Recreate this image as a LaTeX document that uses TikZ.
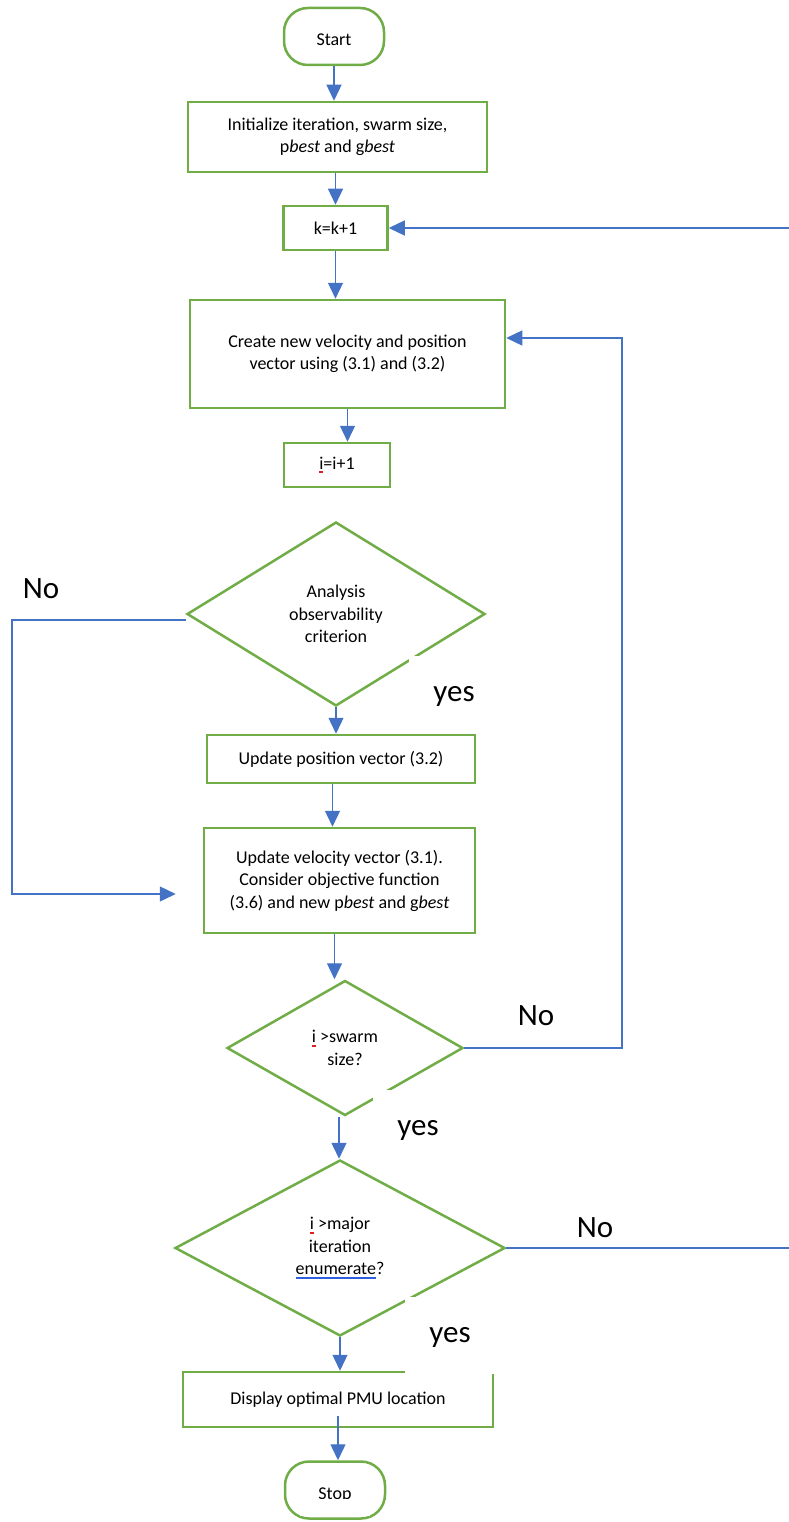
\documentclass[tikz,border=0pt]{standalone}
\usepackage{fontspec}
\setmainfont{Carlito}
\usetikzlibrary{arrows.meta,shapes.geometric}

\definecolor{boxgreen}{HTML}{70AD47}
\definecolor{flowblue}{HTML}{4472C4}
\definecolor{spellred}{HTML}{E02020}
\definecolor{grammarblue}{HTML}{2F5FE0}

% word with a coloured proofing mark under it
\newlength\marklen
\newcommand\markword[2]{\settowidth\marklen{#2}\rlap{\textcolor{#1}{\rule[-3.8pt]{\marklen}{2pt}}}#2}

\newcommand\nodefont{\fontsize{18}{22.5}\selectfont}
\newcommand\tagfont{\fontsize{31}{36}\selectfont}

\tikzset{
  stepbox/.style={draw=boxgreen, line width=2.5pt, fill=white, align=center,
    font=\nodefont, inner sep=0pt},
  term/.style={stepbox, rounded corners=24pt, minimum width=100pt,
    minimum height=57pt, text height=20pt, text depth=2pt},
  decision/.style={stepbox, diamond, aspect=1.6},
  flow/.style={draw=flowblue, line width=1.3pt,
    -{Triangle[length=16pt,width=15pt]}},
  tag/.style={font=\tagfont, inner sep=0pt},
  yestag/.style={tag, fill=white, minimum width=90pt, minimum height=77pt,
    text height=20pt, text depth=6pt},
}

\begin{document}
\begin{tikzpicture}[x=1pt,y=-1pt]
\useasboundingbox (0,0) rectangle (788,1522);

% process steps
\node[term] (start) at (334,36.5) {Start};
\node[stepbox, minimum width=299pt, minimum height=70pt] (init) at (337.5,137)
  {Initialize iteration, swarm size,\\p\textit{best} and g\textit{best}};
\node[stepbox, minimum width=104pt, minimum height=44pt] (k) at (335.5,228) {k=k+1};
\node[stepbox, minimum width=315pt, minimum height=108pt] (create) at (347.5,354)
  {Create new velocity and position\\vector using (3.1) and (3.2)};
\node[stepbox, minimum width=106pt, minimum height=44pt] (inc) at (337,465)
  {\markword{spellred}{i}=i+1};
\node[decision, minimum width=298pt, minimum height=184pt] (obs) at (336,614)
  {Analysis\\observability\\criterion};
\node[stepbox, minimum width=268pt, minimum height=48pt] (pos) at (341,759)
  {Update position vector (3.2)};
\node[stepbox, minimum width=271pt, minimum height=105pt] (vel) at (339.5,880.5)
  {Update velocity vector (3.1).\\Consider objective function\\(3.6) and new p\textit{best} and g\textit{best}};
\node[decision, minimum width=236pt, minimum height=135pt] (swarm) at (345,1048)
  {\markword{spellred}{i} >swarm\\size?};
\node[decision, minimum width=330pt, minimum height=176pt] (major) at (340,1248)
  {\markword{spellred}{i} >major\\iteration\\\markword{grammarblue}{enumerate}?};
\node[stepbox, minimum width=310pt, minimum height=55pt] (show) at (338,1399.5)
  {Display optimal PMU location};

% the stop terminal, its label cut off at the bottom
\begin{scope}[even odd rule]
  \clip (0,0) rectangle (788,1522) (300,1498.5) rectangle (370,1516);
  \node[term] (stop) at (335,1490) {Stop};
\end{scope}

% main flow
\draw[flow] (start.south) -- (start.south |- init.north);
\draw[flow] (k.north |- init.south) -- (k.north);
\draw[flow] (k.south) -- (k.south |- create.north);
\draw[flow] (create.south) -- (create.south |- inc.north);
\draw[flow] (obs.south) -- (obs.south |- pos.north);
\draw[flow] ([xshift=-7pt]vel.north |- pos.south) -- ([xshift=-7pt]vel.north);
\draw[flow] ([xshift=-5pt]vel.south) -- ([xshift=-5pt]vel.south |- swarm.north);
\draw[flow] ([xshift=-6pt]swarm.south) -- ([xshift=-6pt]swarm.south |- major.north);
\draw[flow] (major.south) -- (major.south |- show.north);
\draw[flow] ([yshift=12pt]show.south) -- (show.south |- stop.north);

% loops back
\coordinate (velin) at ([xshift=-27pt,yshift=-13.5pt]vel.west);
\draw[flow] ([yshift=-6pt]obs.west) -- (12,620) |- (velin);
\draw[flow] (swarm.east) -- (622,1048) |- ([yshift=16pt]create.east);
\draw[flow] (major.east) -- (800,1248) |- (k.east);

% branch labels
\node[tag, anchor=base] (no1) at (41,598) {No};
\node[yestag] (yes1) at (454,694) {yes};
\node[tag, anchor=base] (no2) at (536,1025) {No};
\node[yestag] (yes2) at (418,1128.5) {yes};
\node[tag, anchor=base] (no3) at (595,1237) {No};
\node[yestag] (yes3) at (450,1335.5) {yes};
\end{tikzpicture}
\end{document}
